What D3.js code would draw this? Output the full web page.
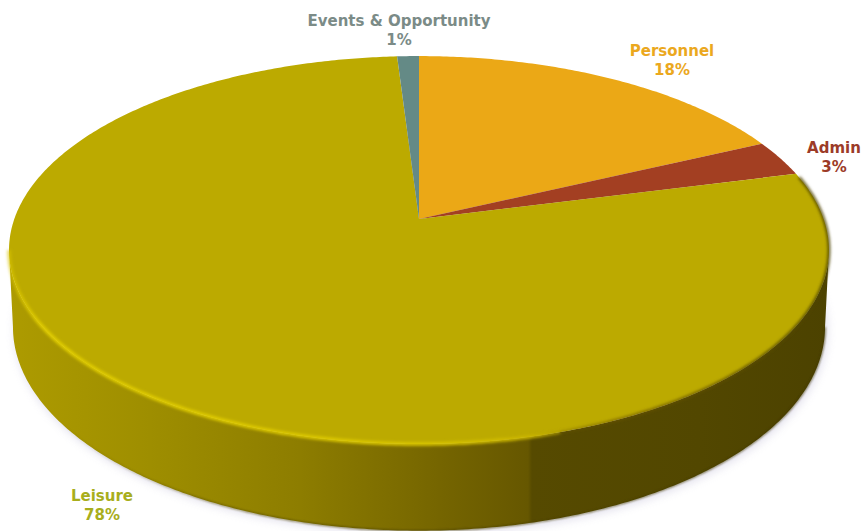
<!DOCTYPE html>
<html>
<head>
<meta charset="utf-8">
<script src="https://cdn.jsdelivr.net/npm/d3@7/dist/d3.min.js"></script>
<style>
  html, body { margin: 0; padding: 0; background: #fff; }
  svg { display: block; }
  text { font-family: "DejaVu Sans", Verdana, sans-serif; font-weight: bold; font-size: 15px; text-anchor: middle; }
</style>
</head>
<body>
<script>
// Budget split by area
const categories = ["Personnel", "Admin", "Leisure", "Events & Opportunity"];
const shares = [18, 3, 78, 1];
const faceColors = ["#eba816", "#a33f22", "#bcaa00", "#648a86"];
const labelColors = ["#eba81e", "#9c3b28", "#a8ae1c", "#7b8b87"];
const labelAnchors = [[672, 51], [834, 148], [102, 496], [399, 21]];

const width = 862, height = 531;
const svg = d3.select("body").append("svg").attr("width", width).attr("height", height);
const defs = svg.append("defs");

// A tilted disc seen in perspective: the nearer half is drawn larger than the farther one.
const tilt = 0.16;
function disc(cx, cy, kx, ky) {
  return a => {
    const w = 1 + tilt * Math.cos(a);
    return [cx + kx * Math.sin(a) / w, cy - ky * Math.cos(a) / w];
  };
}
const faceRim = disc(419, 219, 404.7, 189);
const baseRim = disc(419, 294.4, 400.8, 198.5);
const faceCentre = [419, 219];

// Angles at which the projected disc reaches its right and left extremes
const rightExtreme = Math.acos(-tilt);
const leftExtreme = 2 * Math.PI - rightExtreme;

const line = d3.line();
const sweep = (from, to, step = 0.01) => {
  const n = Math.max(2, Math.ceil(Math.abs(to - from) / step));
  return d3.range(n + 1).map(i => from + (to - from) * i / n);
};

const addBlur = (id, dev) => defs.append("filter").attr("id", id)
  .attr("filterUnits", "userSpaceOnUse")
  .attr("x", -20).attr("y", -20).attr("width", width + 40).attr("height", height + 40)
  .append("feGaussianBlur").attr("stdDeviation", dev);
addBlur("soft-shadow", 5);
addBlur("soft-edge", 1.6);
addBlur("soft-rim", 0.8);

const hGrad = (id, stops) => {
  const g = defs.append("linearGradient").attr("id", id)
    .attr("gradientUnits", "userSpaceOnUse")
    .attr("x1", 0).attr("x2", width).attr("y1", 0).attr("y2", 0);
  stops.forEach(([x, c, o]) => g.append("stop")
    .attr("offset", x / width).attr("stop-color", c).attr("stop-opacity", o === undefined ? 1 : o));
};
hGrad("wall", [[10, "#ad9b00"], [150, "#9e8e00"], [300, "#8d7d00"], [440, "#756500"], [528, "#665700"],
               [532, "#564a00"], [700, "#524700"], [830, "#4c4200"]]);
hGrad("highlight", [[5, "#d8c400", 0.6], [40, "#e4d000"], [200, "#e2ce00"], [420, "#dcc800"], [530, "#cdb800"], [600, "#c2ae00", 0]]);
hGrad("shade", [[500, "#6a5a00", 0], [620, "#6a5400", 0.75], [760, "#5a4c00", 1], [830, "#4c4200", 1]]);
hGrad("foot", [[60, "#544900", 0], [250, "#544900", 1], [830, "#3e3600", 1]]);

// Soft shadow beneath the disc
svg.append("path")
  .attr("d", line(sweep(0, 2 * Math.PI).map(baseRim)) + "Z")
  .attr("transform", "translate(2,3)")
  .attr("fill", "#b9b5d2")
  .attr("opacity", 0.45)
  .attr("filter", "url(#soft-shadow)");

// Side wall
const wallOutline = [...sweep(rightExtreme, leftExtreme).map(faceRim), ...sweep(leftExtreme, rightExtreme).map(baseRim)];
svg.append("path")
  .attr("d", line(wallOutline) + "Z")
  .attr("fill", "url(#wall)");
svg.append("path")
  .attr("d", line(sweep(rightExtreme, leftExtreme).map(baseRim)))
  .attr("fill", "none")
  .attr("stroke", "url(#foot)")
  .attr("stroke-width", 1.2)
  .attr("filter", "url(#soft-rim)");

// Top face slices
const pie = d3.pie().sort(null).value(d => d)(shares);
svg.append("g").selectAll("path").data(pie).join("path")
  .attr("d", d => line([faceCentre, ...sweep(d.startAngle, d.endAngle).map(faceRim)]) + "Z")
  .attr("fill", (d, i) => faceColors[i]);

// Lit and shaded edges along the rim
const leisure = pie[2];
svg.append("path")
  .attr("d", line(sweep(leisure.startAngle + 0.02, leftExtreme).map(faceRim)))
  .attr("fill", "none")
  .attr("stroke", "url(#shade)")
  .attr("stroke-width", 2.5)
  .attr("filter", "url(#soft-edge)");
svg.append("path")
  .attr("d", line(sweep(Math.PI - 0.3, leftExtreme).map(faceRim)))
  .attr("fill", "none")
  .attr("stroke", "url(#highlight)")
  .attr("stroke-width", 3.5)
  .attr("filter", "url(#soft-edge)");

// Category and share labels
const labels = svg.append("g").selectAll("text").data(categories).join("text")
  .attr("fill", (d, i) => labelColors[i])
  .attr("transform", (d, i) => `translate(${labelAnchors[i]})`);
labels.append("tspan").attr("x", 0).attr("y", 5).text(d => d);
labels.append("tspan").attr("x", 0).attr("y", 24).text((d, i) => shares[i] + "%");
</script>
</body>
</html>
